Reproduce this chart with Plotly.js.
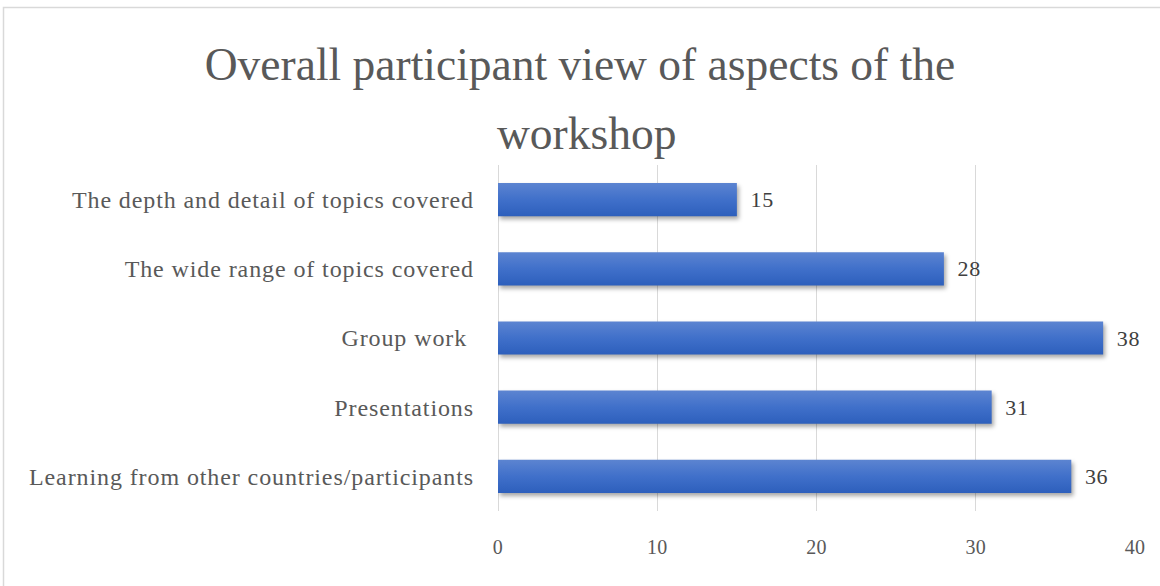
<!DOCTYPE html>
<html>
<head>
<meta charset="utf-8">
<script src="https://cdn.plot.ly/plotly-3.0.1.min.js"></script>
<style>
html,body{margin:0;padding:0;background:#fff;}
#chart{width:1160px;height:586px;}
#chart .ytick text{letter-spacing:0.9px;}
#chart .xtick text{letter-spacing:0.3px;}
#chart .bars text{letter-spacing:0.6px;}
</style>
</head>
<body>
<div id="chart"></div>
<script>
const categories = [
  "The depth and detail of topics covered",
  "The wide range of topics covered",
  "Group work ",
  "Presentations",
  "Learning from other countries/participants"
];
const values = [15, 28, 38, 31, 36];
const xTicks = [0, 10, 20, 30, 40];
const titleLine1 = "Overall participant view of aspects of the";
const titleLine2 = "workshop";

const FONT = "'Liberation Serif', 'DejaVu Serif', serif";

const trace = {
  type: "bar",
  orientation: "h",
  y: categories,
  x: values,
  width: 0.48,
  marker: {color: "#4170c6", line: {width: 0}},
  text: values.map(v => "\u2002" + v),
  textposition: "outside",
  cliponaxis: false,
  textfont: {family: FONT, size: 22, color: "#404040"},
  hoverinfo: "none"
};

const layout = {
  width: 1160,
  height: 586,
  margin: {l: 498, r: 25, t: 165, b: 75},
  paper_bgcolor: "#ffffff",
  plot_bgcolor: "#ffffff",
  showlegend: false,
  font: {family: FONT, color: "#595959"},
  title: {
    text: titleLine1,
    font: {family: FONT, size: 45.5, color: "#595959"},
    x: 586, xref: "container", xanchor: "center",
    y: 1 - 64/586, yref: "container", yanchor: "middle"
  },
  annotations: [{
    text: titleLine2,
    xref: "paper", yref: "paper",
    x: (586 - 498) / 637, y: (511 - 133) / 346,
    xanchor: "center", yanchor: "middle",
    showarrow: false,
    font: {family: FONT, size: 45.5, color: "#595959"}
  }],
  xaxis: {
    range: [0, 40],
    tickvals: xTicks,
    ticktext: xTicks.map(String),
    showgrid: true,
    gridcolor: "#d9d9d9",
    gridwidth: 1,
    zeroline: true,
    zerolinecolor: "#d9d9d9",
    zerolinewidth: 1,
    showline: false,
    ticks: "",
    ticklabelstandoff: 22,
    tickfont: {family: FONT, size: 20, color: "#595959"},
    fixedrange: true
  },
  yaxis: {
    autorange: "reversed",
    showgrid: false,
    zeroline: false,
    showline: false,
    ticks: "",
    ticklabelstandoff: 23,
    tickfont: {family: FONT, size: 24, color: "#595959"},
    fixedrange: true
  },
  shapes: [{
    type: "rect",
    xref: "paper", yref: "paper",
    x0: (3.5 - 498) / 637, x1: (1170 - 498) / 637,
    y0: (511 - 7.5) / 346, y1: (511 - 600) / 346,
    line: {color: "#d9d9d9", width: 1.5},
    fillcolor: "rgba(0,0,0,0)",
    layer: "below"
  }]
};

Plotly.newPlot("chart", [trace], layout, {displayModeBar: false, staticPlot: true}).then(gd => {
  const svg = gd.querySelector("svg.main-svg");
  const ns = "http://www.w3.org/2000/svg";
  let defs = svg.querySelector("defs");
  if (!defs) { defs = document.createElementNS(ns, "defs"); svg.insertBefore(defs, svg.firstChild); }
  const grad = document.createElementNS(ns, "linearGradient");
  grad.setAttribute("id", "barGrad");
  grad.setAttribute("x1", "0"); grad.setAttribute("y1", "0");
  grad.setAttribute("x2", "0"); grad.setAttribute("y2", "1");
  [["0%", "#5c84d1"], ["50%", "#4070ca"], ["100%", "#2d5fbc"]].forEach(([o, c]) => {
    const s = document.createElementNS(ns, "stop");
    s.setAttribute("offset", o); s.setAttribute("stop-color", c);
    grad.appendChild(s);
  });
  defs.appendChild(grad);
  gd.querySelectorAll(".bars .point path").forEach(p => {
    p.style.fill = "url(#barGrad)";
    p.style.filter = "drop-shadow(2px 3px 2px rgba(0,0,0,0.35))";
  });
});
</script>
</body>
</html>
